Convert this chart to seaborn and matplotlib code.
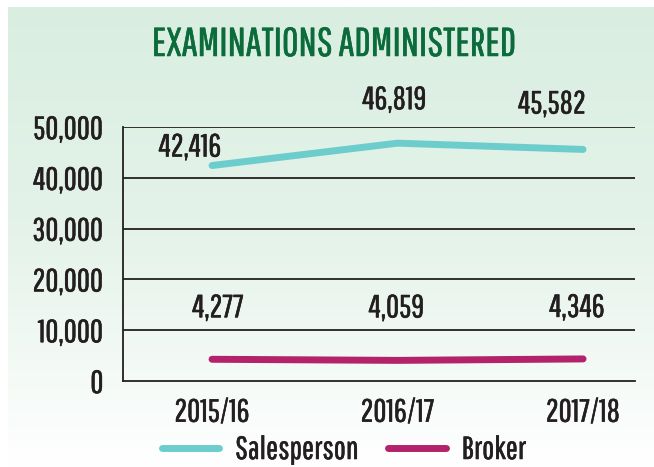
import matplotlib
import matplotlib.patheffects as pe
import matplotlib.pyplot as plt
import numpy as np
import pandas as pd
import seaborn as sns
from matplotlib.colors import LinearSegmentedColormap
from matplotlib.lines import Line2D

matplotlib.use("Agg")
sns.set_theme(style="white")
plt.rcParams["font.family"] = ["Pathway Gothic One", "DejaVu Sans"]

YEARS = ["2015/16", "2016/17", "2017/18"]
SALESPERSON = [42416, 46819, 45582]
BROKER = [4277, 4059, 4346]
Y_TICKS = [0, 10000, 20000, 30000, 40000, 50000]

# label offsets in pixels (dx, dy) from each point
SALES_OFFSETS = [(-22, 18), (-3, 43), (-31, 45)]
BROKER_OFFSETS = [(6, 51), (-1, 52), (-6, 51)]

COLORS = {"Salesperson": "#6dcdcd", "Broker": "#b3226a"}
TITLE_COLOR = "#0b6b3a"
TEXT_COLOR = "#231f20"
FS = 23


def heavier(color):
    # the source font is a touch bolder than Pathway Gothic One
    return [pe.withStroke(linewidth=0.4, foreground=color)]


df = pd.DataFrame(
    {
        "year": YEARS * 2,
        "x": list(range(len(YEARS))) * 2,
        "value": SALESPERSON + BROKER,
        "series": ["Salesperson"] * len(YEARS) + ["Broker"] * len(YEARS),
    }
)

fig = plt.figure(figsize=(6.54, 4.67), dpi=100)

# gradient background panel
bg = fig.add_axes([8 / 654, 0, 1 - 8 / 654, 1 - 7 / 467], zorder=0)
cmap = LinearSegmentedColormap.from_list("bg", ["#d9eee1", "#e5f3ea", "#ffffff"])
grad = np.linspace(0, 1, 256).reshape(-1, 1)
bg.imshow(grad, aspect="auto", cmap=cmap, extent=[0, 1, 0, 1], origin="upper")
bg.set_axis_off()

ax = fig.add_axes([123 / 654, 1 - 381 / 467, (635 - 123) / 654, (381 - 127) / 467], zorder=1)
ax.patch.set_alpha(0)

sns.lineplot(
    data=df,
    x="x",
    y="value",
    hue="series",
    palette=COLORS,
    linewidth=5,
    legend=False,
    ax=ax,
    solid_capstyle="round",
)

ax.set_xlim(-0.48, 2.28)
ax.set_ylim(0, 50000)
ax.set_yticks(Y_TICKS)
ax.set_yticklabels([f"{v:,}" for v in Y_TICKS])
ax.set_xticks(range(len(YEARS)))
ax.set_xticklabels(YEARS)
ax.set_xlabel("")
ax.set_ylabel("")
ax.tick_params(axis="both", length=0, labelsize=FS, colors=TEXT_COLOR)
ax.tick_params(axis="y", pad=14)
ax.tick_params(axis="x", pad=12)
for lbl in ax.get_xticklabels() + ax.get_yticklabels():
    lbl.set_path_effects(heavier(TEXT_COLOR))

for y in Y_TICKS[1:]:
    ax.axhline(y, color="#231f20", linewidth=1.3, zorder=0.5)

for side in ["top", "right"]:
    ax.spines[side].set_visible(False)
for side in ["left", "bottom"]:
    ax.spines[side].set_color("#231f20")
    ax.spines[side].set_linewidth(1.3)

for values, offsets in [(SALESPERSON, SALES_OFFSETS), (BROKER, BROKER_OFFSETS)]:
    for i, (v, (dx, dy)) in enumerate(zip(values, offsets)):
        ax.annotate(
            f"{v:,}",
            xy=(i, v),
            xytext=(dx, dy),
            textcoords="offset pixels",
            ha="center",
            va="center",
            fontsize=FS,
            color=TEXT_COLOR,
            annotation_clip=False,
            path_effects=heavier(TEXT_COLOR),
        )

fig.text(0.51, 1 - 45 / 467, "EXAMINATIONS ADMINISTERED", ha="center", va="center",
         fontsize=29, color=TITLE_COLOR, path_effects=heavier(TITLE_COLOR))

handles = [Line2D([0], [0], color=COLORS[s], linewidth=5) for s in ["Salesperson", "Broker"]]
leg = fig.legend(
    handles,
    ["Salesperson", "Broker"],
    loc="center",
    bbox_to_anchor=(0.526, 1 - 450 / 467),
    ncol=2,
    frameon=False,
    fontsize=FS,
    handlelength=1.8,
    handletextpad=0.5,
    columnspacing=0.9,
    labelcolor=TEXT_COLOR,
)
for t in leg.get_texts():
    t.set_path_effects(heavier(TEXT_COLOR))

fig.savefig("out.png", dpi=100)
